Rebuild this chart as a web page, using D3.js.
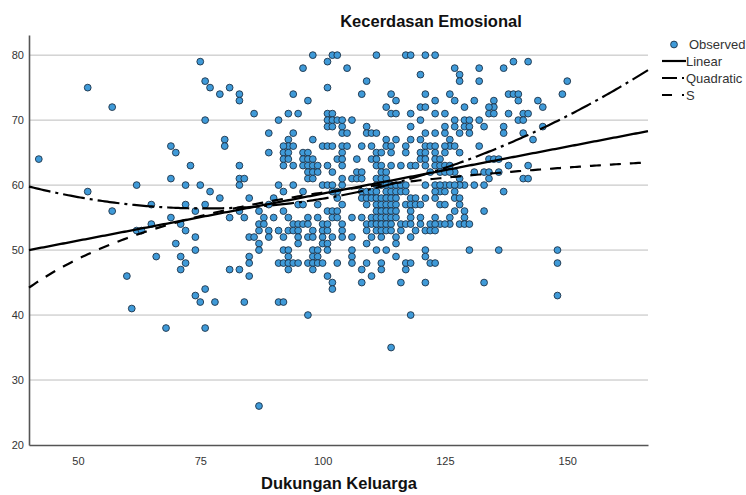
<!DOCTYPE html>
<html>
<head>
<meta charset="utf-8">
<script src="https://cdn.jsdelivr.net/npm/d3@7"></script>
<style>
  body { margin: 0; background: #fff; }
  text { font-family: "Liberation Sans", Arial, sans-serif; }
</style>
</head>
<body>
<svg width="746" height="495"></svg>
<script>
// Observed points: [Dukungan Keluarga, Kecerdasan Emosional]
var observed = [
    // left, sparse part
    [42,64],[52,75],[52,59],[57,72],[57,56],[60,46],[61,41],[62,60],[62,53],[63,53],
    [65,57],[65,54],[66,49],[68,38],[69,66],[70,65],[69,61],[69,55],[70,51],[71,54],
    [71,49],[71,47],[72,48],[72,60],[72,57],[72,53],[73,63],[74,56],[74,52],[74,50],
    [74,43],[75,42],[75,79],[75,60],[76,76],[77,75],[76,70],[76,57],[76,44],[76,38],
    [77,59],[78,42],[79,74],[79,58],[81,75],[80,67],[80,66],[81,55],[81,47],[83,74],
    [83,73],[83,63],[83,61],[84,61],[83,60],[83,56],[84,55],[83,47],[84,42],[85,58],
    [85,52],[85,49],[85,48],[85,46],[87,26],
    // 86-104, upper
    [98,80],[101,79],[102,80],[103,80],[96,78],[101,75],[94,74],[97,73],[86,71],[93,71],
    [95,71],[91,70],[101,71],[102,71],[101,70],[102,70],[101,69],[102,69],[103,70],[89,68],
    [94,68],[93,67],[93,66],[94,66],[92,66],[98,67],[100,66],[101,66],[102,66],[89,65],
    [92,65],[93,65],[96,65],[97,65],[92,64],[93,64],[96,64],[97,64],[98,64],[103,64],
    [92,63],[94,63],[96,63],[97,63],[98,63],[99,63],[101,63],[97,62],[98,62],[99,62],
    [102,62],[97,61],[98,61],[91,60],[94,60],[100,60],[101,60],[102,60],[104,69],[104,68],
    // 103-125, upper
    [111,80],[117,80],[118,80],[121,80],[123,80],[105,78],[109,76],[120,77],[108,74],[114,74],
    [115,73],[121,74],[123,73],[113,72],[114,71],[115,71],[120,72],[121,72],[118,71],[123,71],
    [125,71],[104,70],[106,70],[118,69],[120,70],[109,69],[109,68],[110,68],[105,68],[111,68],
    [115,67],[113,67],[121,68],[123,68],[125,68],[118,67],[120,67],[104,66],[105,66],[108,66],
    [110,66],[113,66],[114,66],[117,66],[121,66],[122,66],[123,66],[104,65],[104,64],[111,65],
    [112,65],[114,65],[117,65],[120,65],[121,65],[123,65],[107,64],[110,64],[111,64],[120,64],
    [121,64],[123,64],[124,64],[104,63],[111,63],[112,63],[114,63],[116,63],[118,63],[119,63],
    [121,63],[123,63],[124,63],[112,62],[113,62],[122,62],[107,62],[108,62],[106,61],[107,61],
    [108,61],[111,61],[112,61],[113,61],[103,58],[103,59],[104,60],[104,61],
    // 124-152
    [127,78],[128,77],[128,76],[132,78],[132,76],[137,78],[139,79],[142,79],[126,74],[127,73],
    [129,72],[131,73],[135,73],[135,72],[134,72],[134,71],[135,71],[138,74],[139,74],[140,74],
    [140,73],[144,73],[145,72],[138,71],[141,71],[142,71],[140,70],[141,70],[127,70],[129,70],
    [130,70],[129,69],[130,69],[127,69],[128,68],[130,68],[132,70],[133,69],[137,69],[137,68],
    [125,69],[145,69],[141,68],[143,67],[126,67],[126,66],[127,66],[125,66],[128,65],[125,65],
    [132,66],[134,64],[135,64],[136,64],[125,63],[126,63],[127,62],[128,61],[129,60],[131,62],
    [133,62],[134,62],[134,61],[138,63],[142,63],[141,61],[142,61],[124,62],[125,62],[126,62],
    [125,60],[126,60],[128,60],[131,60],[150,76],[149,74],[137,59],[136,62],
    [127,60],[133,60],[124,59],[127,59],[127,58],[128,58],[128,57],[129,56],[129,55],[127,56],
    [126,55],[126,54],[124,54],[128,54],[129,54],[130,54],[133,56],[124,57],[130,50],[136,50],
    [133,45],[148,50],[148,48],[148,43],
    // 86-104, lower
    [87,56],[89,57],[90,58],[92,56],[95,57],[96,57],[99,57],[88,55],[90,55],[93,55],
    [97,55],[99,55],[94,54],[95,54],[96,54],[97,54],[87,54],[88,54],[87,53],[89,53],
    [91,53],[93,53],[94,53],[95,53],[98,53],[100,53],[101,53],[86,52],[89,52],[92,52],
    [95,52],[97,52],[98,52],[100,52],[102,52],[95,51],[100,51],[101,51],[87,51],[87,50],
    [92,50],[93,50],[98,50],[99,50],[101,50],[93,49],[98,49],[99,49],[91,48],[92,48],
    [93,48],[94,48],[95,48],[97,48],[98,48],[99,48],[100,48],[103,48],[93,47],[98,47],
    [101,46],[102,45],[102,44],[91,42],[92,42],[97,40],[92,59],[96,59],[102,59],[101,56],
    [102,56],[103,56],[102,55],[103,55],[100,54],[101,54],
    // 103-125, lower
    [111,60],[112,60],[113,60],[114,60],[115,60],[116,60],[117,60],[121,60],[123,60],[124,60],
    [108,59],[109,59],[110,59],[111,59],[113,59],[114,59],[115,59],[116,59],[117,59],[123,59],[125,59],
    [108,58],[109,58],[110,58],[111,58],[112,58],[113,58],[114,58],[115,58],[118,58],[119,58],[121,58],[123,58],
    [104,57],[109,57],[111,57],[112,57],[113,57],[114,57],[115,57],[117,57],[118,57],[119,57],[120,57],[125,57],
    [111,56],[112,56],[113,56],[114,56],[115,56],[118,56],
    [106,55],[108,55],[110,55],[111,55],[112,55],[113,55],[114,55],[115,55],[118,55],[120,55],[123,55],
    [104,54],[109,54],[110,54],[111,54],[112,54],[113,54],[114,54],[116,54],[117,54],[118,54],[120,54],[122,54],[123,54],[125,54],
    [104,53],[109,53],[111,53],[112,53],[113,53],[114,53],[116,53],[119,53],[121,53],[122,53],[123,53],
    [104,52],[106,52],[110,52],[112,52],[115,52],[118,52],
    [109,51],[115,51],[106,50],[111,50],[113,50],[121,50],[106,49],[115,49],[121,49],
    [106,48],[109,48],[112,48],[117,48],[118,48],[122,48],[123,48],[108,47],[112,47],[117,47],
    [110,46],[108,45],[116,45],[121,45],[118,40],[114,35]
];

// fitted curves (SPSS curve estimation)
var linearCoef = [44.21, 0.1447];            // b0 + b1*x
var quadCoef = [71.42, -0.3952, 0.0026];     // b0 + b1*x + b2*x^2
var sCoef = [4.2655, -19.06];                // exp(b0 + b1/x)

var xTicks = [50, 75, 100, 125, 150];
var yTicks = [20, 30, 40, 50, 60, 70, 80];
var legendLabels = ["Observed", "Linear", "Quadratic", "S"];

var svg = d3.select("svg");

var x = d3.scaleLinear().domain([40, 166.5]).range([29, 648]);
var y = d3.scaleLinear().domain([20, 83.1]).range([445, 35]);

// grid lines
svg.append("g")
    .selectAll("line")
    .data(yTicks.filter(function (d) { return d > 20; }))
    .enter()
    .append("line")
    .attr("x1", x(40))
    .attr("x2", x(166.5))
    .attr("y1", function (d) { return y(d); })
    .attr("y2", function (d) { return y(d); })
    .style("stroke", "#bdbdbd")
    .style("stroke-width", 1);

// axes, no tick marks
var xAxis = svg.append("g")
    .attr("transform", "translate(0," + y(20) + ")")
    .call(d3.axisBottom(x).tickValues(xTicks).tickSize(0).tickPadding(12));
var yAxis = svg.append("g")
    .attr("transform", "translate(" + x(40) + ",0)")
    .call(d3.axisLeft(y).tickValues(yTicks).tickSize(0).tickPadding(5));

[xAxis, yAxis].forEach(function (g) {
    g.select(".domain").style("stroke", "#555").style("stroke-width", 1.6);
    g.selectAll("text")
        .style("font-family", "'Liberation Sans', Arial, sans-serif")
        .style("font-size", "11px")
        .style("fill", "#333");
});

// observed points
svg.append("g")
    .selectAll("circle")
    .data(observed)
    .enter()
    .append("circle")
    .attr("cx", function (d) { return x(d[0]); })
    .attr("cy", function (d) { return y(d[1]); })
    .attr("r", 3.4)
    .style("fill", "#3f9ad8")
    .style("stroke", "#1d3247")
    .style("stroke-width", 0.9);

// fitted lines
var xs = d3.range(40, 166.6, 0.5);
var curves = [
    { f: function (v) { return linearCoef[0] + linearCoef[1] * v; }, dash: null, w: 2.3 },
    { f: function (v) { return quadCoef[0] + quadCoef[1] * v + quadCoef[2] * v * v; }, dash: "22,5,3,5", w: 2.2 },
    { f: function (v) { return Math.exp(sCoef[0] + sCoef[1] / v); }, dash: "11,9", w: 2.2 }
];
var line = d3.line()
    .x(function (d) { return x(d[0]); })
    .y(function (d) { return y(d[1]); });

curves.forEach(function (c) {
    svg.append("path")
        .attr("d", line(xs.map(function (v) { return [v, c.f(v)]; })))
        .style("fill", "none")
        .style("stroke", "#000")
        .style("stroke-width", c.w)
        .style("stroke-dasharray", c.dash);
});

// legend
var legend = svg.append("g").attr("transform", "translate(662,0)");
var legendY = [44.5, 61, 78, 95];
legend.append("circle")
    .attr("cx", 12).attr("cy", legendY[0]).attr("r", 3.4)
    .style("fill", "#3f9ad8").style("stroke", "#1d3247").style("stroke-width", 0.9);
[null, "15,5,2,5", "10,10,2,5"].forEach(function (dash, i) {
    legend.append("line")
        .attr("x1", 0).attr("x2", 24)
        .attr("y1", legendY[i + 1]).attr("y2", legendY[i + 1])
        .style("stroke", "#000")
        .style("stroke-width", 2.2)
        .style("stroke-dasharray", dash);
});
legend.selectAll("text.lab")
    .data(legendLabels)
    .enter()
    .append("text")
    .attr("class", "lab")
    .attr("x", function (d, i) { return i === 0 ? 27 : 24; })
    .attr("y", function (d, i) { return legendY[i] + 4.5; })
    .style("font-size", "13px")
    .style("fill", "#333")
    .text(function (d) { return d; });

// titles
svg.append("text")
    .attr("x", 431)
    .attr("y", 27)
    .attr("text-anchor", "middle")
    .style("font-size", "16.5px")
    .style("font-weight", "bold")
    .style("fill", "#111")
    .text("Kecerdasan Emosional");

svg.append("text")
    .attr("x", 339)
    .attr("y", 489)
    .attr("text-anchor", "middle")
    .style("font-size", "16.5px")
    .style("font-weight", "bold")
    .style("fill", "#111")
    .text("Dukungan Keluarga");
</script>
</body>
</html>
